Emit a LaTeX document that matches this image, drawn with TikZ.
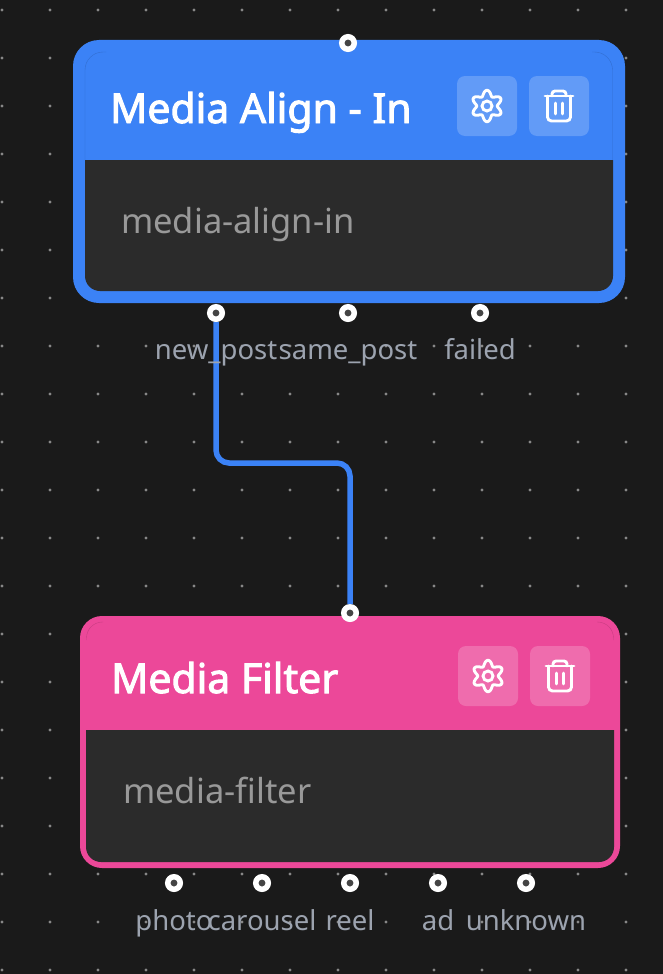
\documentclass[tikz,border=0pt]{standalone}
\usepackage{fontspec}
\setmainfont{Noto Sans}
\newfontfamily\titlefont{Noto Sans}[FakeBold=2.4]
\definecolor{bgdark}{HTML}{1A1A1A}
\definecolor{griddot}{HTML}{888888}
\definecolor{bodydark}{HTML}{2B2B2B}
\definecolor{holedark}{HTML}{444444}
\definecolor{alignblue}{HTML}{3B82F6}
\definecolor{filterpink}{HTML}{EC4899}
\definecolor{porttext}{HTML}{9CA3AF}
\definecolor{subtext}{HTML}{999999}
\tikzset{
	card/.style={rectangle,rounded corners=#1,inner sep=0pt,minimum width=1pt},
	handle/.style={circle,draw=white,line width=5.5pt,fill=holedark,minimum size=12.5pt,inner sep=0pt},
	iconbtn/.style={rectangle,fill=white,fill opacity=0.2,rounded corners=8pt,minimum size=60pt,inner sep=0pt},
	titletext/.style={anchor=base west,inner sep=0pt,white,font=\fontsize{41}{48}\titlefont},
	subtitle/.style={anchor=base west,inner sep=0pt,subtext,font=\fontsize{34.5}{40}\selectfont},
	portlabel/.style={anchor=base,inner sep=0pt,porttext,font=\fontsize{27.5}{32}\selectfont},
	gearicon/.pic={
		\draw[white,line width=2.9pt,domain=0:360,samples=145,smooth] plot ({(13-2.7*cos(6*\x))*cos(\x)},{(13-2.7*cos(6*\x))*sin(\x)}) -- cycle;
		\draw[white,line width=2.9pt] (0,0) circle[radius=5];
	},
	trashicon/.pic={
		\draw[white,line width=2.9pt,line cap=round,line join=round] (-14,-10) -- (14,-10);
		\draw[white,line width=2.9pt,line cap=round,rounded corners=3pt] (-7,-10) -- (-7,-15) -- (7,-15) -- (7,-10);
		\draw[white,line width=2.9pt,line cap=round,rounded corners=4pt] (-11.5,-10) -- (-11.5,15) -- (11.5,15) -- (11.5,-10);
		\draw[white,line width=2.9pt,line cap=round] (-3.3,-3) -- (-3.3,8);
		\draw[white,line width=2.9pt,line cap=round] (3.3,-3) -- (3.3,8);
	}
}
\begin{document}
\begin{tikzpicture}[x=1pt,y=-1pt]
\useasboundingbox (0,0) rectangle (663,974);
\fill[bgdark] (0,0) rectangle (663,974);

% background dots
\foreach \i in {0,...,13}{
	\foreach \j in {0,...,20}{
		\fill[griddot] (2+48*\i,10+48*\j) circle[radius=1.6];
	}
}

% top card
\node[card=26pt,fill=alignblue,minimum width=552pt,minimum height=263pt] (alignCard) at (349,171.5) {};
\fill[bodydark] (85,160) -- (613,160) [rounded corners=15pt] -- (613,291) -- (85,291) -- (85,225) [sharp corners] -- cycle;
\draw[alignblue!85!black,thin] (85,160) [rounded corners=18pt] -- (85,52) -- (106,52);
\draw[alignblue!85!black,thin] (612.5,160) [rounded corners=18pt] -- (612.5,52) -- (592,52);
\node[titletext] (alignTitle) at (110,123) {Media Align - In};
\node[subtitle] (alignName) at (121,233) {media-align-in};
\node[iconbtn] (alignGear) at (487,106) {};
\node[iconbtn] (alignTrash) at (559,106) {};
\pic at (alignGear) {gearicon};
\pic at (alignTrash) {trashicon};

% bottom card
\node[card=22pt,fill=filterpink,minimum width=540pt,minimum height=252pt] (filterCard) at (350,742) {};
\fill[bodydark] (86,730) -- (614,730) [rounded corners=15pt] -- (614,862) -- (86,862) -- (86,795) [sharp corners] -- cycle;
\draw[filterpink!85!black,thin] (597,622) [rounded corners=16pt] -- (613.5,622) -- (613.5,640);
\draw[filterpink!85!black,thin] (103,622) [rounded corners=16pt] -- (86.5,622) -- (86.5,640);
\node[titletext] (filterTitle) at (111,693) {Media Filter};
\node[subtitle] (filterName) at (123,803) {media-filter};
\node[iconbtn] (filterGear) at (488,676) {};
\node[iconbtn] (filterTrash) at (560,676) {};
\pic at (filterGear) {gearicon};
\pic at (filterTrash) {trashicon};

% handles
\node[handle] (alignIn) at (348,43) {};
\node[handle] (filterIn) at (350,613) {};
\foreach \n/\x in {newPost/216,samePost/348,failed/480}{
	\node[handle] (\n) at (\x,313) {};
}
\foreach \n/\x in {photo/174,carousel/262,reel/350,ad/438,unknown/526}{
	\node[handle] (\n) at (\x,883) {};
}

% edge
\coordinate (bendA) at (newPost |- 0,463);
\coordinate (bendB) at (filterIn |- 0,463);
\draw[alignblue,line width=5.5pt,rounded corners=13pt] (newPost.south) -- (bendA) -- (bendB) -- (filterIn.north);

% port labels
\foreach \x/\t in {216/new\_post,348/same\_post,480/failed}{
	\node[portlabel] (label\x) at (\x,359) {\t};
}
\foreach \x/\t in {174/photo,262/carousel,350/reel,438/ad,526/unknown}{
	\node[portlabel] (label\x) at (\x,930) {\t};
}
\end{tikzpicture}
\end{document}
